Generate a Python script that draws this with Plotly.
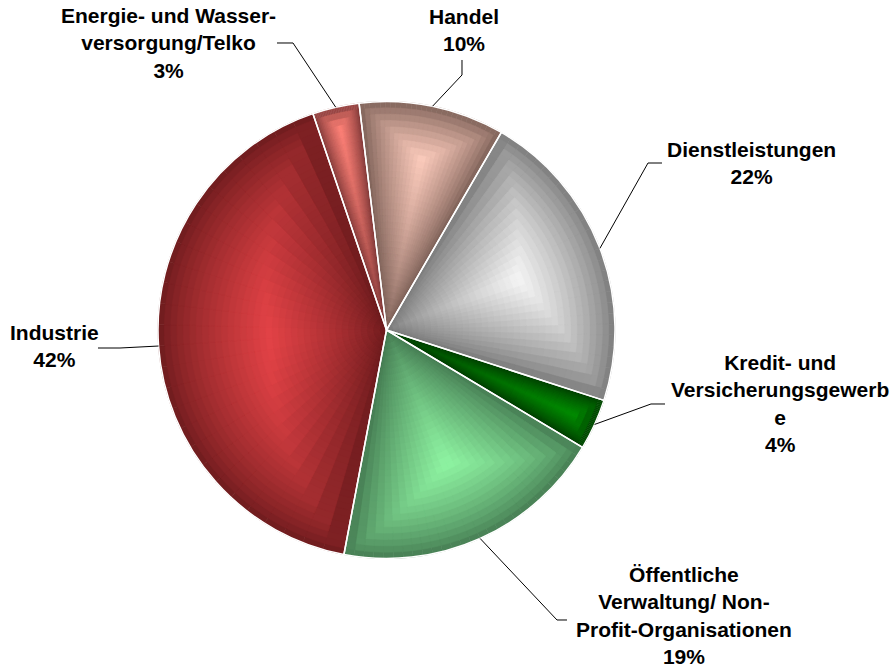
import numpy as np
import plotly.graph_objects as go

# ---------------- data ----------------
categories = [
    "Handel",
    "Dienstleistungen",
    "Kredit- und Versicherungsgewerbe",
    "Öffentliche Verwaltung/ Non-Profit-Organisationen",
    "Industrie",
    "Energie- und Wasserversorgung/Telko",
]
values = [10.3, 21.6, 3.6, 19.4, 41.8, 3.3]
label_lines = [
    "Handel",
    "Dienstleistungen",
    "Kredit- und<br>Versicherungsgewerb<br>e",
    "Öffentliche<br>Verwaltung/ Non-<br>Profit-Organisationen",
    "Industrie",
    "Energie- und Wasser-<br>versorgung/Telko",
]
light_colors = ["#FCCBBC", "#F5F5F5", "#008C00", "#8FF5A3", "#E24246", "#FF8278"]
dark_colors = ["#7A5E55", "#787878", "#003800", "#437850", "#6A1A1C", "#7A3535"]

# ---------------- layout constants ----------------
W, H = 893, 670
CX, CY, R = 386.5, 330.0, 228.5
ROTATION = -6.9
N_RINGS = 36
K_SUB = 28

# label centres (px) and leader-line elbow/end points (px)
label_pos = [(464, 30), (751, 163), (780, 403), (684, 615), (54, 346), (168, 43)]
leader_elbow = [(462, 75), (648, 163), (651, 404), (557, 620), (120, 348), (293, 43)]
leader_end = [(462, 60), (662, 163), (665, 404), (567, 620), (98, 348), (277, 43)]


def hex2rgb(h):
    h = h.lstrip("#")
    return np.array([int(h[i:i + 2], 16) for i in (0, 2, 4)], dtype=float)


def mix(c1, c2, t):
    c = hex2rgb(c1) * (1 - t) + hex2rgb(c2) * t
    return "rgb(%d,%d,%d)" % tuple(np.round(c).astype(int))


def px(x):
    return x / W


def py(y):
    return 1 - y / H


def domain_for(r):
    return dict(x=[(CX - r) / W, (CX + r) / W], y=[1 - (CY + r) / H, 1 - (CY - r) / H])


total = float(sum(values))
fig = go.Figure()

# gradient-shaded pie: concentric full pies, each slice split into sub-slices
for i in range(N_RINGS):
    r_out = R * (1 - i / N_RINGS)
    r_mid = r_out - R / (2 * N_RINGS)
    sub_vals, cols = [], []
    for v, lc, dc in zip(values, light_colors, dark_colors):
        alpha = np.pi * v / total
        s = np.sin(min(alpha, np.pi / 2))
        rho = R * s / (1 + s)
        for k in range(K_SUB):
            phi = -alpha + (k + 0.5) * 2 * alpha / K_SUB
            ang = min(alpha - abs(phi), np.pi / 2)
            d_side = r_mid * np.sin(ang)
            d_arc = R - r_mid
            d = min(d_side, d_arc)
            t = min(d / rho, 1.0) ** 0.75
            sub_vals.append(v / K_SUB)
            cols.append(mix(dc, lc, t))
    fig.add_trace(go.Pie(
        values=sub_vals, sort=False, direction="clockwise", rotation=ROTATION,
        marker=dict(colors=cols, line=dict(color=cols, width=0.6)),
        textinfo="none", hoverinfo="skip", showlegend=False,
        domain=domain_for(r_out),
    ))

# overlay with white slice separators
fig.add_trace(go.Pie(
    labels=categories, values=values, sort=False, direction="clockwise",
    rotation=ROTATION,
    marker=dict(colors=["rgba(0,0,0,0)"] * len(values), line=dict(color="white", width=1.5)),
    textinfo="none", hoverinfo="label+percent", showlegend=False,
    domain=domain_for(R),
))

# labels and leader lines
annotations, shapes = [], []
cum = 0.0
for j, v in enumerate(values):
    mid = np.deg2rad(ROTATION) + 2 * np.pi * (cum + v / 2) / total
    cum += v
    sx, sy = CX + R * np.sin(mid), CY - R * np.cos(mid)
    ex, ey = leader_elbow[j]
    tx, ty = leader_end[j]
    path = "M %f %f L %f %f L %f %f" % (px(sx), py(sy), px(ex), py(ey), px(tx), py(ty))
    shapes.append(dict(type="path", path=path, xref="paper", yref="paper",
                       line=dict(color="black", width=1)))
    pct = int(round(100 * v / total))
    lx, ly = label_pos[j]
    annotations.append(dict(
        text="%s<br>%d%%" % (label_lines[j], pct),
        x=px(lx), y=py(ly), xref="paper", yref="paper",
        xanchor="center", yanchor="middle", align="center", showarrow=False,
        font=dict(family="Liberation Sans, Arial, sans-serif", size=21, color="black", weight="bold"),
    ))

fig.update_layout(
    width=W, height=H,
    margin=dict(l=0, r=0, t=0, b=0),
    paper_bgcolor="white", plot_bgcolor="white",
    annotations=annotations, shapes=shapes,
)

fig.write_html("out.html", config={"displayModeBar": False},
               post_script="document.body.style.margin='0';")
